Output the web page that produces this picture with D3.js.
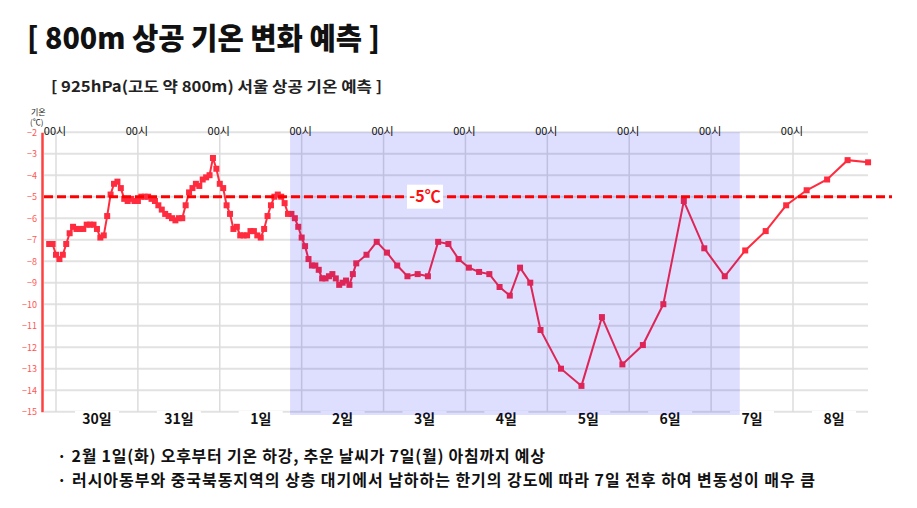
<!DOCTYPE html>
<html><head><meta charset="utf-8">
<script src="https://cdn.jsdelivr.net/npm/d3@7/dist/d3.min.js"></script>
<style>
body{margin:0;background:#fff;}
svg{display:block;font-family:"Noto Sans CJK KR","Noto Sans",sans-serif;}
</style>
</head><body>
<svg id="chart" width="917" height="508"></svg>
<script>
// ---- data ----
const titleText = "[ 800m 상공 기온 변화 예측 ]";
const subtitleText = "[ 925hPa(고도 약 800m) 서울 상공 기온 예측 ]";
const dayLabels = ["30일","31일","1일","2일","3일","4일","5일","6일","7일","8일"];
const midnightLabel = "00시";
const yTicks = [-2,-3,-4,-5,-6,-7,-8,-9,-10,-11,-12,-13,-14,-15];
// hourly forecast, hours since 30일 00시 (from -2 to 88)
const hourlyStart = -2;
const hourlyTemps = [
  -7.2,-7.2,-7.7,-7.9,-7.7,-7.2,-6.7,-6.4,-6.5,-6.5,-6.5,-6.3,-6.3,-6.3,-6.5,-6.9,-6.8,
  -5.9,-4.9,-4.4,-4.3,-4.6,-5.1,-5.2,-5.1,-5.2,-5.2,-5.0,-5.0,-5.0,-5.1,-5.2,-5.4,-5.6,
  -5.8,-5.9,-6.0,-6.1,-6.0,-6.0,-5.4,-4.8,-4.6,-4.4,-4.5,-4.2,-4.1,-4.0,-3.2,-3.7,-4.4,
  -4.6,-5.4,-5.8,-6.5,-6.4,-6.8,-6.8,-6.8,-6.6,-6.6,-6.8,-6.9,-6.5,-5.9,-5.4,-5.0,-4.9,
  -5.0,-5.3,-5.8,-5.8,-6.0,-6.4,-6.9,-7.3,-7.9,-8.2,-8.2,-8.4,-8.8,-8.8,-8.7,-8.6,-8.8,
  -9.1,-9.0,-8.9,-9.1,-8.6,-8.1
];
const threeHourHours = [91,94,97,100,103,106,109,112,115,118,121,124,127,130,133,136,139,142];
const threeHourTemps = [-7.7,-7.1,-7.6,-8.2,-8.7,-8.6,-8.7,-7.1,-7.2,-7.9,-8.3,-8.5,-8.6,-9.2,-9.6,-8.3,-9.0,-11.2];
const sixHourHours = [148,154,160,166,172,178,184,190,196,202,208,214,220,226,232,238];
const sixHourTemps = [-13.0,-13.8,-10.6,-12.8,-11.9,-10.0,-5.2,-7.4,-8.7,-7.5,-6.6,-5.4,-4.7,-4.2,-3.3,-3.4];
const threshold = -5;
const thresholdLabel = "-5℃";
const highlightRange = [68.6, 200.4];
const notes = [
  "· 2월 1일(화) 오후부터 기온 하강, 추운 날씨가 7일(월) 아침까지 예상",
  "· 러시아동부와 중국북동지역의 상층 대기에서 남하하는 한기의 강도에 따라 7일 전후 하여 변동성이 매우 큼"
];

const series = [];
hourlyTemps.forEach((t,i)=>series.push({h: hourlyStart + i, t}));
threeHourHours.forEach((h,i)=>series.push({h, t: threeHourTemps[i]}));
sixHourHours.forEach((h,i)=>series.push({h, t: sixHourTemps[i]}));

// ---- drawing ----
const svg = d3.select("#chart");
const x = d3.scaleLinear().domain([0, 216]).range([56, 793]);
const y = d3.scaleLinear().domain([-2, -15]).range([132.2, 411.7]);
const plotLeft = 42, plotRight = 868;
const dayBounds = d3.range(0, 217, 24);

svg.append("rect").attr("width",917).attr("height",508).attr("fill","#fff");

// titles
svg.append("text").attr("x",27).attr("y",49).text(titleText)
  .attr("font-size",30).attr("font-weight",900).attr("fill","#111")
  .attr("textLength",353).attr("lengthAdjust","spacingAndGlyphs");
svg.append("text").attr("x",51).attr("y",92).text(subtitleText)
  .attr("font-size",15).attr("font-weight",700).attr("fill","#222")
  .attr("textLength",331).attr("lengthAdjust","spacingAndGlyphs");

// axis title
svg.append("text").attr("x",31).attr("y",115).text("기온").attr("font-size",8).attr("fill","#222");
svg.append("text").attr("x",30).attr("y",125).text("(℃)").attr("font-size",8).attr("fill","#222");

// horizontal grid
svg.append("g").selectAll("line").data(yTicks).join("line")
  .attr("x1",plotLeft+2).attr("x2",plotRight)
  .attr("y1",d=>y(d)).attr("y2",d=>y(d))
  .attr("stroke","#e2e2e2").attr("stroke-width",2);
// vertical grid
svg.append("g").selectAll("line").data(dayBounds).join("line")
  .attr("x1",d=>x(d)).attr("x2",d=>x(d))
  .attr("y1",y(-2)).attr("y2",y(-15))
  .attr("stroke","#dcdcdc").attr("stroke-width",1.5);

// y axis
const yAxis = d3.axisLeft(y).tickValues(yTicks).tickSize(0).tickPadding(5).tickFormat(d3.format("d"));
const ga = svg.append("g").attr("transform",`translate(${plotLeft},0)`).call(yAxis);
ga.select(".domain").attr("stroke","#ff4040").attr("stroke-width",2.5);
ga.selectAll("text").attr("fill","#ff5555").attr("font-size",9).attr("font-family","'Noto Sans CJK KR',sans-serif");

// day labels with white backgrounds
const dayG = svg.append("g").selectAll("g").data(dayLabels).join("g")
  .attr("transform",(d,i)=>`translate(${x(12+24*i)},419)`);
dayG.append("rect").attr("x",-22).attr("y",-8).attr("width",44).attr("height",18).attr("fill","#fff");
dayG.append("text").text(d=>d).attr("text-anchor","middle").attr("dy","0.36em")
  .attr("font-size",14).attr("font-weight",700).attr("fill","#111");

// data line
const line = d3.line().x(d=>x(d.h)).y(d=>y(d.t));
svg.append("path").datum(series).attr("d",line).attr("fill","none")
  .attr("stroke","#ff2b3e").attr("stroke-width",2);
svg.append("g").selectAll("rect").data(series).join("rect")
  .attr("x",d=>x(d.h)-3).attr("y",d=>y(d.t)-3).attr("width",6).attr("height",6)
  .attr("fill","#ff2b3e");

// highlight overlay
svg.append("rect").attr("x",x(highlightRange[0])).attr("width",x(highlightRange[1])-x(highlightRange[0]))
  .attr("y",y(-2)).attr("height",415-y(-2)).attr("fill","rgba(0,0,255,0.13)");

// threshold
svg.append("line").attr("x1",plotLeft+2).attr("x2",892).attr("y1",y(threshold)).attr("y2",y(threshold))
  .attr("stroke","#ff0000").attr("stroke-width",3).attr("stroke-dasharray","9,4");
svg.append("rect").attr("x",407).attr("y",y(threshold)-12).attr("width",36).attr("height",24).attr("fill","#fff");
svg.append("text").attr("x",425).attr("y",y(threshold)).attr("dy","0.36em").attr("text-anchor","middle")
  .text(thresholdLabel).attr("font-size",16).attr("font-weight",700).attr("fill","#ff1010");

// midnight labels
svg.append("g").selectAll("text").data(dayBounds).join("text")
  .attr("x",d=>x(d)-1).attr("y",131).attr("dy","0.36em").attr("text-anchor","middle")
  .text(midnightLabel).attr("font-size",11).attr("fill","#111");

// notes
const noteWidths = [488, 758];
svg.append("g").selectAll("text").data(notes).join("text")
  .attr("x",57).attr("y",(d,i)=>462+i*24).text(d=>d)
  .attr("font-size",16).attr("font-weight",700).attr("fill","#111")
  .attr("textLength",(d,i)=>noteWidths[i]).attr("lengthAdjust","spacing");
</script>
</body></html>
